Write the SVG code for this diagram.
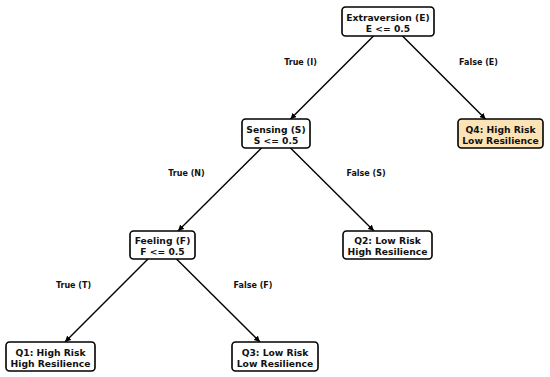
<svg xmlns="http://www.w3.org/2000/svg" width="550" height="377" viewBox="0 0 550 377">
<defs>
<marker id="ah" viewBox="0 0 10 10" refX="10" refY="5" markerWidth="6" markerHeight="6" markerUnits="userSpaceOnUse" orient="auto">
<path d="M0,0 L10,5 L0,10 z" fill="#000"/>
</marker>
<style>
.box{fill:#fff;stroke:#000;stroke-width:1.6}
.leaf4{fill:#fce3b5}
.t{font-family:"DejaVu Sans",sans-serif;font-weight:bold;font-size:9.2px;text-anchor:middle;fill:#111}
.e{font-family:"DejaVu Sans",sans-serif;font-weight:bold;font-size:8px;text-anchor:middle;fill:#111}
.c line{stroke:#000;stroke-width:1.4;marker-end:url(#ah)}
</style>
</defs>
<rect width="550" height="377" fill="#fff"/>
<g class="c" id="connectors">
<line x1="373.5" y1="36" x2="290.5" y2="119"/>
<line x1="402.5" y1="36" x2="485.5" y2="119"/>
<line x1="261.5" y1="148" x2="178" y2="231"/>
<line x1="290.5" y1="148" x2="374" y2="231"/>
<line x1="148" y1="259" x2="65" y2="342"/>
<line x1="176.5" y1="259" x2="260" y2="342"/>
<text class="e" x="300.5" y="64.5">True (I)</text>
<text class="e" x="478.5" y="64.5">False (E)</text>
<text class="e" x="186.5" y="175.5">True (N)</text>
<text class="e" x="366" y="175.5">False (S)</text>
<text class="e" x="73.5" y="287.5">True (T)</text>
<text class="e" x="253" y="287.5">False (F)</text>
</g>
<g id="root">
<rect class="box" x="342" y="7" width="92" height="29" rx="3.5"/>
<text class="t" x="388" y="20.5">Extraversion (E)</text>
<text class="t" x="388" y="31.5">E &lt;= 0.5</text>
</g>
<g id="sensing">
<rect class="box" x="242" y="119" width="68" height="29" rx="3.5"/>
<text class="t" x="276" y="132.5">Sensing (S)</text>
<text class="t" x="276" y="143.5">S &lt;= 0.5</text>
</g>
<g id="q4">
<rect class="box leaf4" x="458" y="119" width="85" height="29" rx="3.5"/>
<text class="t" x="500.5" y="132.5">Q4: High Risk</text>
<text class="t" x="500.5" y="143.5">Low Resilience</text>
</g>
<g id="feeling">
<rect class="box" x="130" y="231" width="65" height="28" rx="3.5"/>
<text class="t" x="162.5" y="244">Feeling (F)</text>
<text class="t" x="162.5" y="255">F &lt;= 0.5</text>
</g>
<g id="q2">
<rect class="box" x="343" y="231" width="89" height="28" rx="3.5"/>
<text class="t" x="387.5" y="244">Q2: Low Risk</text>
<text class="t" x="387.5" y="255">High Resilience</text>
</g>
<g id="q1">
<rect class="box" x="6" y="342" width="89" height="29" rx="3.5"/>
<text class="t" x="50.5" y="355.5">Q1: High Risk</text>
<text class="t" x="50.5" y="366.5">High Resilience</text>
</g>
<g id="q3">
<rect class="box" x="232" y="342" width="86" height="29" rx="3.5"/>
<text class="t" x="275" y="355.5">Q3: Low Risk</text>
<text class="t" x="275" y="366.5">Low Resilience</text>
</g>
</svg>
